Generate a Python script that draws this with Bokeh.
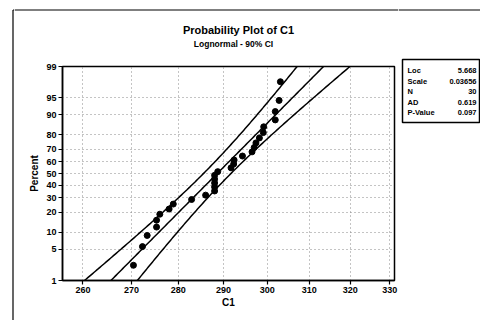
import math
import numpy as np
from bokeh.plotting import figure
from bokeh.layouts import column, row
from bokeh.models import FixedTicker
from bokeh.core.properties import value
from bokeh.embed import file_html
from bokeh.resources import INLINE

# ---- data ----
c1_values = [270.4, 272.3, 273.3, 275.3, 275.3, 276.0, 278.0, 278.9, 282.9, 286.0,
             288.0, 288.0, 288.0, 288.0, 288.0, 288.7, 291.7, 292.3, 292.4, 294.3,
             296.5, 297.0, 297.4, 298.2, 299.1, 299.2, 301.9, 301.9, 302.8, 303.1]
percent_values = [2.3, 5.6, 8.9, 12.2, 15.5, 18.8, 22.0, 25.3, 28.6, 31.9,
                  35.2, 38.5, 41.8, 45.1, 48.4, 51.6, 54.9, 58.2, 61.5, 64.8,
                  68.1, 71.4, 74.7, 78.0, 81.3, 84.5, 87.8, 91.1, 94.4, 97.7]
x_ticks = [260, 270, 280, 290, 300, 310, 320, 330]
y_ticks = [1, 5, 10, 20, 30, 40, 50, 60, 70, 80, 90, 95, 99]
fit_loc = 5.665      # location of drawn fit line (log scale)
fit_scale = 0.0355   # scale of drawn fit line
n_obs = 30
ci_level = 90
title_text = "Probability Plot of C1"
subtitle_text = "Lognormal - 90% CI"
stat_names = ["Loc", "Scale", "N", "AD", "P-Value"]
stat_values = ["5.668", "0.03656", "30", "0.619", "0.097"]

FONT = "Liberation Sans"


def norm_cdf(z):
    return 0.5 * (1.0 + math.erf(z / math.sqrt(2.0)))


def norm_ppf(p):
    lo, hi = -10.0, 10.0
    for _ in range(200):
        mid = 0.5 * (lo + hi)
        if norm_cdf(mid) < p:
            lo = mid
        else:
            hi = mid
    return 0.5 * (lo + hi)


def zp(pct):
    return norm_ppf(pct / 100.0)


def blank_fig(w, h):
    f = figure(width=w, height=h, x_range=(0, w), y_range=(h, 0),
               output_backend="svg", toolbar_location=None,
               x_axis_location=None, y_axis_location=None,
               min_border=0)
    f.grid.visible = False
    f.outline_line_color = None
    f.background_fill_color = "white"
    f.border_fill_color = "white"
    return f


TOTAL_W, TOTAL_H = 480, 320
STRIP_W = 14
MID_W = 384
STATS_W = TOTAL_W - STRIP_W - MID_W
HEAD_H = 56
MAIN_H = TOTAL_H - HEAD_H
BORDER_COLOR = "black"

# ---- left strip carrying the page border ----
strip = blank_fig(STRIP_W, TOTAL_H)
strip.line(x=[12.5, 12.5], y=[9.5, TOTAL_H], line_color=BORDER_COLOR, line_width=1.2)
strip.line(x=[12.5, STRIP_W], y=[9.5, 9.5], line_color=BORDER_COLOR, line_width=1.2)

# ---- header with titles ----
header = blank_fig(MID_W, HEAD_H)
header.line(x=[0, MID_W], y=[9.5, 9.5], line_color=BORDER_COLOR, line_width=1.2)
header.text(x=[238 - STRIP_W], y=[29], text=[title_text], text_align="center",
            text_baseline="middle", text_font=value(FONT),
            text_font_style="bold", text_font_size="11px", text_color="black")
header.text(x=[233 - STRIP_W], y=[43], text=[subtitle_text], text_align="center",
            text_baseline="middle", text_font=value(FONT),
            text_font_style="bold", text_font_size="8.5px", text_color="black")

# ---- main probability plot ----
x_min, x_max = 255.9, 331.2
y_min, y_max = zp(1), zp(99)

p = figure(width=MID_W, height=MAIN_H, x_axis_type="log",
           x_range=(x_min, x_max), y_range=(y_min, y_max),
           output_backend="svg", toolbar_location=None,
           min_border_left=48, min_border_right=4,
           min_border_top=10, min_border_bottom=40)
p.background_fill_color = "white"
p.border_fill_color = "white"
p.outline_line_color = "black"
p.outline_line_width = 1.5

p.xaxis.ticker = FixedTicker(ticks=x_ticks, minor_ticks=[])
p.xaxis.major_label_overrides = {t: str(t) for t in x_ticks}
y_tick_z = [zp(v) for v in y_ticks]
p.yaxis.ticker = FixedTicker(ticks=y_tick_z, minor_ticks=[])
p.yaxis.major_label_overrides = {z: str(v) for z, v in zip(y_tick_z, y_ticks)}

for ax in (p.xaxis[0], p.yaxis[0]):
    ax.axis_line_color = "black"
    ax.axis_line_width = 1.5
    ax.major_tick_line_color = "black"
    ax.major_tick_line_width = 1.2
    ax.major_tick_out = 4
    ax.major_tick_in = 0
    ax.minor_tick_line_color = None
    ax.major_label_text_font = FONT
    ax.major_label_text_font_style = "bold"
    ax.major_label_text_font_size = "9px"
    ax.major_label_text_color = "black"
    ax.axis_label_text_font = FONT
    ax.axis_label_text_font_style = "bold"
    ax.axis_label_text_font_size = "10px"
    ax.axis_label_text_color = "black"

p.xaxis.axis_label = "C1"
p.yaxis.axis_label = "Percent"
p.xaxis.major_label_standoff = 2
p.yaxis.major_label_standoff = 2
p.xaxis.axis_label_standoff = 1
p.yaxis.axis_label_standoff = 3

p.xgrid.ticker = FixedTicker(ticks=x_ticks, minor_ticks=[])
p.ygrid.ticker = FixedTicker(ticks=y_tick_z, minor_ticks=[])
for g in (p.xgrid[0], p.ygrid[0]):
    g.grid_line_color = "#888888"
    g.grid_line_dash = "1 3"
    g.grid_line_width = 1

# fit line and confidence bounds (lognormal percentiles)
zz = np.linspace(-2.8, 2.8, 200)
zc = norm_ppf(0.5 + ci_level / 200.0)
center = fit_loc + zz * fit_scale
half = zc * fit_scale * np.sqrt(1.0 / n_obs + zz ** 2 / (2.0 * n_obs))
p.line(np.exp(center), zz, line_color="black", line_width=1.5)
p.line(np.exp(center - half), zz, line_color="black", line_width=1.5)
p.line(np.exp(center + half), zz, line_color="black", line_width=1.5)

p.scatter(c1_values, [zp(v) for v in percent_values], size=6,
          fill_color="black", line_color="black")

# ---- statistics box on the right (page coordinates offset by 398) ----
stats = blank_fig(STATS_W, TOTAL_H)
stats.line(x=[0, STATS_W], y=[9.5, 9.5], line_color=BORDER_COLOR, line_width=1.2)
stats.quad(left=[4], right=[STATS_W - 1], top=[59], bottom=[122],
           fill_color="white", line_color="black", line_width=1.5)
row_y = [70, 80.5, 91, 101.5, 112]
stats.text(x=[9] * len(stat_names), y=row_y, text=stat_names,
           text_align="left", text_baseline="middle", text_font=value(FONT),
           text_font_style="bold", text_font_size="7.5px", text_color="black")
stats.text(x=[STATS_W - 4] * len(stat_values), y=row_y, text=stat_values,
           text_align="right", text_baseline="middle", text_font=value(FONT),
           text_font_style="bold", text_font_size="7.5px", text_color="black")

layout = row(strip, column(header, row(p, spacing=0), spacing=0), stats, spacing=0)
open("out.html", "w").write(file_html(layout, INLINE))
